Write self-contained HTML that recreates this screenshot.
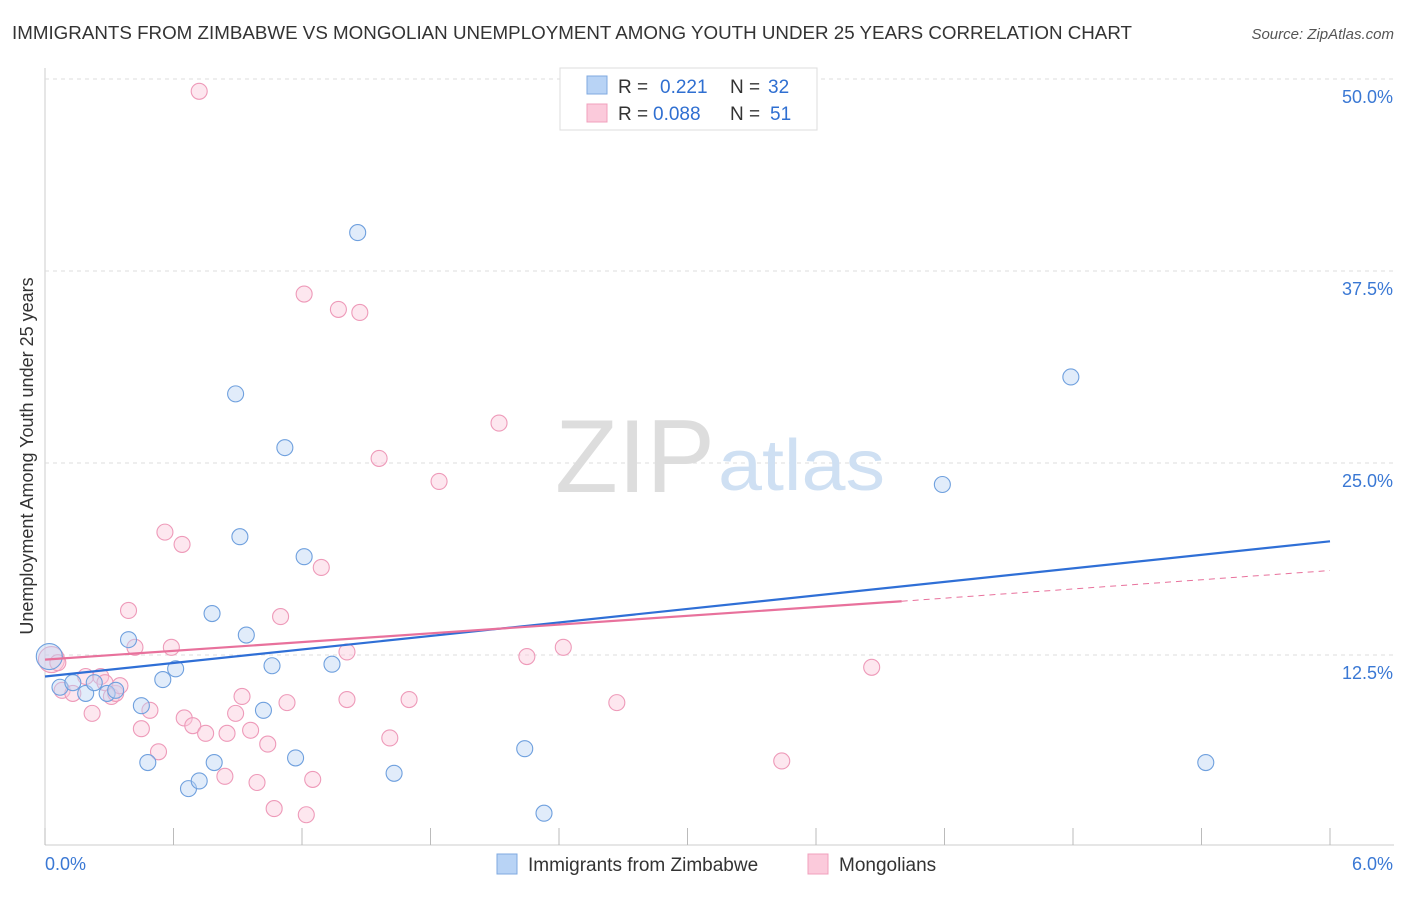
<!DOCTYPE html>
<html><head><meta charset="utf-8"><style>
body{margin:0;background:#fff;font-family:"Liberation Sans",Arial,sans-serif;}
svg text{font-family:"Liberation Sans",Arial,sans-serif;}
</style></head><body>
<svg id="c" width="1406" height="892">
<text x="12" y="39" font-size="18.5" fill="#333" textLength="1120" lengthAdjust="spacingAndGlyphs">IMMIGRANTS FROM ZIMBABWE VS MONGOLIAN UNEMPLOYMENT AMONG YOUTH UNDER 25 YEARS CORRELATION CHART</text>
<text x="1394" y="39" font-size="15" fill="#555" font-style="italic" text-anchor="end">Source: ZipAtlas.com</text>
<g id="grid"></g>
<text x="555" y="492" font-size="104" fill="#ddd" font-family="Liberation Serif" textLength="160" lengthAdjust="spacingAndGlyphs">ZIP</text>
<text x="718" y="490" font-size="72" fill="#cfe0f3" textLength="167" lengthAdjust="spacingAndGlyphs">atlas</text>
<text x="33" y="456" font-size="18" fill="#333" text-anchor="middle" transform="rotate(-90 33 456)">Unemployment Among Youth under 25 years</text>
<g id="marks"></g>
<g>
<rect x="560" y="68" width="257" height="62" fill="#fff" stroke="#ddd"/>
<rect x="587" y="76" width="20" height="18" fill="#b8d3f5" stroke="#7fa9e0"/>
<rect x="587" y="104" width="20" height="18" fill="#fbcadb" stroke="#f0a0bd"/>
<text x="618" y="93" font-size="19" fill="#333">R = </text><text x="660" y="93" font-size="19" fill="#2f6fd1">0.221</text>
<text x="730" y="93" font-size="19" fill="#333">N = </text><text x="768" y="93" font-size="19" fill="#2f6fd1">32</text>
<text x="618" y="120" font-size="19" fill="#333">R = </text><text x="653" y="120" font-size="19" fill="#2f6fd1">0.088</text>
<text x="730" y="120" font-size="19" fill="#333">N = </text><text x="770" y="120" font-size="19" fill="#2f6fd1">51</text>
</g>
<g>
<rect x="497" y="854" width="20" height="20" fill="#b8d3f5" stroke="#7fa9e0"/>
<text x="528" y="871" font-size="19" fill="#333">Immigrants from Zimbabwe</text>
<rect x="808" y="854" width="20" height="20" fill="#fbcadb" stroke="#f0a0bd"/>
<text x="839" y="871" font-size="19" fill="#333">Mongolians</text>
</g>
</svg>
<script>
const yTicks=[12.5,25,37.5,50];
const xTickLabels=["0.0%","6.0%"];
const blueX=[0.02,0.07,0.13,0.19,0.23,0.29,0.33,0.39,0.45,0.48,0.55,0.61,0.67,0.72,0.78,0.79,0.89,0.91,0.94,1.02,1.06,1.12,1.17,1.21,1.34,1.46,1.63,2.24,2.33,4.19,4.79,5.42];
const blueY=[12.4,10.4,10.7,10.0,10.7,10.0,10.2,13.5,9.2,5.5,10.9,11.6,3.8,4.3,15.2,5.5,29.5,20.2,13.8,8.9,11.8,26.0,5.8,18.9,11.9,40.0,4.8,6.4,2.2,23.6,30.6,5.5];
const pinkX=[0.03,0.06,0.08,0.13,0.19,0.22,0.26,0.28,0.31,0.33,0.35,0.39,0.42,0.45,0.49,0.53,0.56,0.59,0.64,0.65,0.69,0.72,0.75,0.84,0.85,0.89,0.92,0.96,0.99,1.04,1.07,1.10,1.13,1.21,1.22,1.25,1.29,1.37,1.41,1.41,1.47,1.56,1.61,1.70,1.84,2.12,2.25,2.42,2.67,3.44,3.86];
const pinkY=[12.2,12.0,10.2,10.0,11.1,8.7,11.1,10.7,9.8,10.0,10.5,15.4,13.0,7.7,8.9,6.2,20.5,13.0,19.7,8.4,7.9,49.2,7.4,4.6,7.4,8.7,9.8,7.6,4.2,6.7,2.5,15.0,9.4,36.0,2.1,4.4,18.2,35.0,12.7,9.6,34.8,25.3,7.1,9.6,23.8,27.6,12.4,13.0,9.4,5.6,11.7];
const blueTrend=[11.1,19.9];
const pinkTrend=[12.2,16.0,18.0];
const pinkSolidEnd=4.0;
const X=v=>45+v/6*1285, Y=v=>847-v*15.36;
const NS="http://www.w3.org/2000/svg";
const grid=document.getElementById('grid'), marks=document.getElementById('marks');
function mk(p,tag,a){const e=document.createElementNS(NS,tag);for(const k in a)e.setAttribute(k,a[k]);p.appendChild(e);return e;}
let ax=mk(grid,'line',{x1:45,y1:68,x2:45,y2:845,stroke:'#ccc'});


let bx=mk(grid,'line',{x1:45,y1:845,x2:1394,y2:845,stroke:'#ccc'});


yTicks.forEach(t=>{
 const l=mk(grid,'line',{x1:45,x2:1394,y1:Y(t),y2:Y(t),stroke:'#ddd','stroke-dasharray':'4,4'});
 
 
 const tx=mk(grid,'text',{x:1393,y:Y(t)+24,'font-size':18,fill:'#3a78d4','text-anchor':'end'});
 tx.textContent=t.toFixed(1)+'%';
 
 
});
for(let i=0;i<=10;i++){
 const l=mk(grid,'line',{x1:X(i*0.6),x2:X(i*0.6),y1:828,y2:845,stroke:'#bbb'});
 
 
}
xTickLabels.forEach((s,i)=>{
 const tx=mk(grid,'text',{x:i?1393:45,y:870,'font-size':18,fill:'#3a78d4','text-anchor':i?'end':'start'});
 tx.textContent=s;
 
 
});
function pts(xs,ys,fill,stroke,name){
 xs.forEach((x,i)=>{
  const r=i===0?13:8;
  const c=mk(marks,'circle',{cx:X(x),cy:Y(ys[i]),r:r,fill:fill,'fill-opacity':0.45,stroke:stroke,'stroke-width':1.1});
  
  
 });
}
pts(pinkX,pinkY,'#fbcadb','#ee9ab9','mongolian-point');
pts(blueX,blueY,'#bcd5f5','#6fa0de','zimbabwe-point');
let bl=mk(marks,'line',{x1:X(0),y1:Y(blueTrend[0]),x2:X(6),y2:Y(blueTrend[1]),stroke:'#2f6fd6','stroke-width':2.2});


let pl=mk(marks,'line',{x1:X(0),y1:Y(pinkTrend[0]),x2:X(pinkSolidEnd),y2:Y(pinkTrend[1]),stroke:'#e8719c','stroke-width':2.2});


let pd=mk(marks,'line',{x1:X(pinkSolidEnd),y1:Y(pinkTrend[1]),x2:X(6),y2:Y(pinkTrend[2]),stroke:'#e8719c','stroke-width':1,'stroke-dasharray':'6,5'});


</script>
</body></html>
